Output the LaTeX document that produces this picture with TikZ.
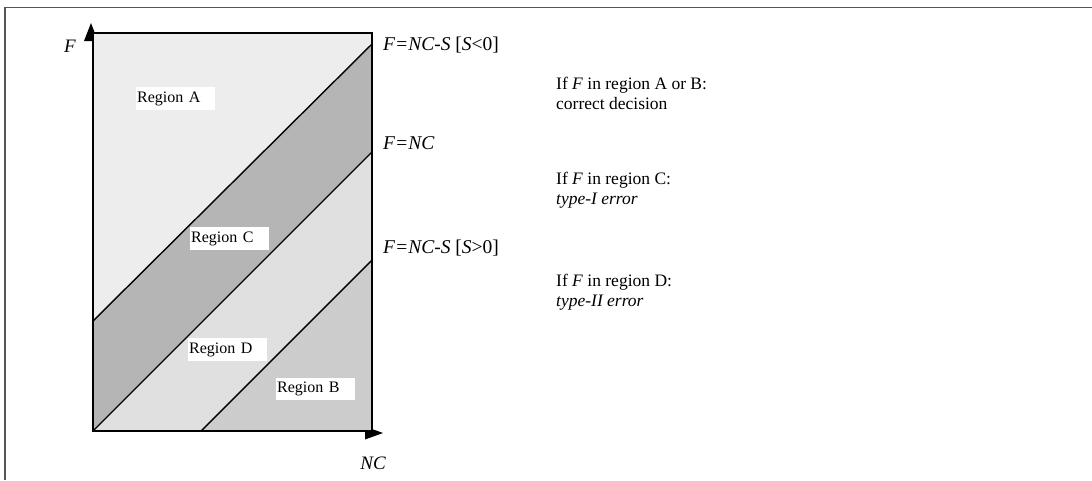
\documentclass[tikz,border=0pt]{standalone}
\usepackage{fontspec}
\setmainfont{Liberation Serif}
\definecolor{regA}{HTML}{EDEDED}
\definecolor{regC}{HTML}{B5B5B5}
\definecolor{regD}{HTML}{E0E0E0}
\definecolor{regB}{HTML}{CCCCCC}
\definecolor{frame}{HTML}{555555}
\tikzset{
  regionlabel/.style={fill=white, inner xsep=1pt, inner ysep=4pt, font=\fontsize{16}{18}\selectfont, anchor=west, text width=77pt, align=left},
  linelabel/.style={anchor=west, font=\fontsize{19.5}{21}\selectfont\itshape, inner sep=0pt},
  infotext/.style={anchor=north west, align=left, font=\fontsize{17.5}{19.5}\selectfont, inner sep=0pt},
  boundary/.style={line width=1.4pt},
  axistip/.style={fill=black},
}
\begin{document}
\begin{tikzpicture}[x=1pt,y=-1pt]
\useasboundingbox (0,0) rectangle (1092,480);
% outer frame
\draw[frame, line width=1.5pt] (1092,7.5) -- (5,7.5) -- (5,480);
% corner coordinates
\coordinate (O) at (93,431);
\coordinate (TL) at (93,33);
\coordinate (TR) at (372,33);
\coordinate (BR) at (372,431);
\coordinate (L1a) at (93,321);
\coordinate (L1b) at (372,44);
\coordinate (L2b) at (372,152);
\coordinate (L3a) at (201,431);
\coordinate (L3b) at (372,260);
% axis arrow heads
\fill[axistip] (84,41) -- (98,41) -- (91,23) -- cycle;
\fill[axistip] (365,426.5) -- (365,439.5) -- (383,433) -- cycle;
% regions
\fill[regA] (TL) -- (TR) -- (L1b) -- (L1a) -- cycle;
\fill[regC] (L1a) -- (L1b) -- (L2b) -- (O) -- cycle;
\fill[regD] (O) -- (L2b) -- (L3b) -- (L3a) -- cycle;
\fill[regB] (L3a) -- (L3b) -- (BR) -- cycle;
% boundary lines
\draw[boundary] (L1a) -- (L1b);
\draw[boundary] (O) -- (L2b);
\draw[boundary] (L3a) -- (L3b);
% box and axes
\draw[line width=2pt] (O) -- (TL) -- (TR) -- (BR) -- (O) -- cycle;
% axis labels
\node[font=\fontsize{19}{21}\selectfont\itshape] (Flab) at (70,46) {F};
\node[font=\fontsize{19}{21}\selectfont\itshape] (NClab) at (373,463) {NC};
% line labels
\node[linelabel] (lab1) at (383,45) {F=NC-S \upshape[\itshape S\upshape<0]};
\node[linelabel] (lab2) at (383,143) {F=NC};
\node[linelabel] (lab3) at (383,248) {F=NC-S \upshape[\itshape S\upshape>0]};
% region labels
\node[regionlabel] (rA) at (136,98.5) {Region A};
\node[regionlabel] (rC) at (190,238.5) {Region C};
\node[regionlabel] (rD) at (188,349.5) {Region D};
\node[regionlabel] (rB) at (276,389) {Region B};
% info text
\node[infotext] (i1) at (556,77) {If \textit{F} in region A or B:\\correct decision};
\node[infotext] (i2) at (556,172) {If \textit{F} in region C:\\\textit{type-I error}};
\node[infotext] (i3) at (556,274) {If \textit{F} in region D:\\\textit{type-II error}};
\end{tikzpicture}
\end{document}
